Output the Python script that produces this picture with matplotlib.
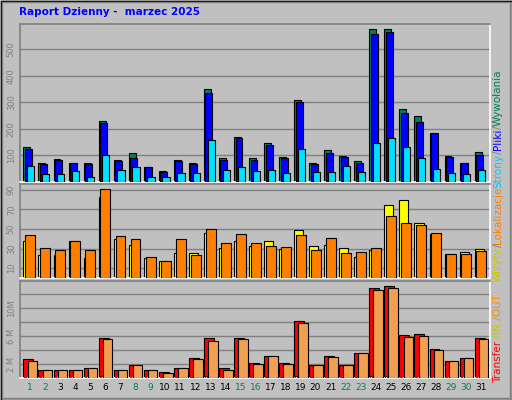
import matplotlib
matplotlib.use("Agg")
import matplotlib.pyplot as plt
from matplotlib.patches import Rectangle

days = list(range(1, 32))
weekend = [1, 2, 8, 9, 15, 16, 22, 23, 29, 30]
hits = [131,70,88,73,70,228,83,110,55,40,83,70,350,90,170,90,145,95,308,70,121,98,79,578,578,275,250,183,98,73,112]
files = [124,67,84,70,67,224,78,92,55,38,80,67,336,83,165,83,138,92,300,67,110,95,73,556,566,258,226,183,95,70,102]
pages = [60,30,30,42,20,102,45,55,20,20,35,35,160,45,57,42,45,35,125,38,38,62,38,145,165,130,90,50,35,30,45]
visits = [38,23,23,38,20,83,40,34,20,17,26,26,46,31,38,33,38,30,49,33,34,31,21,29,75,80,56,45,25,27,30]
sites = [44,31,29,38,29,91,43,40,21,17,40,24,50,36,45,36,33,32,44,29,41,26,27,31,63,56,54,46,25,25,28]
transfer = [2.7,1.2,1.2,1.1,1.5,5.8,1.2,1.8,1.1,0.8,1.5,2.8,5.8,1.4,5.8,2.1,3.1,2.1,8.2,1.8,3.1,1.8,3.6,12.9,13.2,6.2,6.3,4.1,2.5,2.8,5.8]
xfer_out = [2.5,1.2,1.2,1.1,1.5,5.6,1.2,1.8,1.1,0.65,1.5,2.7,5.3,1.2,5.6,2.0,3.1,2.0,7.9,1.8,3.0,1.8,3.6,12.6,12.9,5.9,6.0,4.0,2.4,2.8,5.6]
xfer_in = [0.1,0.1,0.1,0.1,0.1,0.3,0.1,0.1,0.1,0.1,0.1,0.1,0.3,0.1,0.1,0.1,0.1,0.1,0.3,0.1,0.1,0.1,0.1,0.3,0.3,0.2,0.2,0.1,0.1,0.1,0.1]

W, H = 512, 400
fig = plt.figure(figsize=(5.12, 4.0), dpi=100)
fig.patch.set_facecolor("#c0c0c0")
BG = "#c0c0c0"

def ax_px(x0, y0, x1, y1):
    return fig.add_axes([x0 / W, 1 - y1 / H, (x1 - x0) / W, (y1 - y0) / H])

# outer frame
fig.add_artist(Rectangle((0.5/W, 0.5/H), 1-1/W, 1-1/H, transform=fig.transFigure, fill=False, ec="black", lw=1))
fig.add_artist(Rectangle((2/W, 2/H), 1-4/W, 1-4/H, transform=fig.transFigure, fill=False, ec="#808080", lw=1))

fig.text(19/W, 1-12/H, "Raport Dzienny -  marzec 2025", color="#0000ff", fontsize=7.5, fontweight="bold", va="center", ha="left")

def setup(ax, ylim, ticks, labels):
    ax.set_facecolor(BG)
    ax.set_xlim(0.35, 31.6)
    ax.set_ylim(*ylim)
    ax.set_yticks(ticks)
    ax.set_yticklabels(labels, rotation=90, va="center", fontsize=6, color="#808080")
    ax.tick_params(axis="y", length=0, pad=3)
    ax.set_xticks([])
    for t in ticks:
        ax.axhline(t, color="#808080", lw=1, zorder=0)
    for s in ["top", "left"]:
        ax.spines[s].set_color("#808080")
    for s in ["bottom", "right"]:
        ax.spines[s].set_color("white")
    for s in ax.spines.values():
        s.set_linewidth(1.2)

ax1 = ax_px(20, 24, 490, 182)
setup(ax1, (0, 595), [100, 200, 300, 400, 500], ["100", "200", "300", "400", "500"])
ax1.bar([d - 0.42 for d in days], hits, width=0.46, align="edge", color="#00805c", ec="black", lw=0.8, zorder=2)
ax1.bar([d - 0.32 for d in days], files, width=0.46, align="edge", color="#0000ff", ec="black", lw=0.8, zorder=3)
ax1.bar([d - 0.18 for d in days], pages, width=0.48, align="edge", color="#00e0ff", ec="black", lw=0.8, zorder=4)

ax2 = ax_px(20, 184, 490, 278)
setup(ax2, (0, 96), [10, 30, 50, 70, 90], ["10", "30", "50", "70", "90"])
ax2.bar([d - 0.42 for d in days], visits, width=0.6, align="edge", color="#ffff00", ec="black", lw=0.8, zorder=2)
ax2.bar([d - 0.3 for d in days], sites, width=0.66, align="edge", color="#ff8000", ec="black", lw=0.8, zorder=3)

ax3 = ax_px(20, 281, 490, 378)
setup(ax3, (0, 13.9), [2, 4, 6, 8, 10, 12], ["2 M", "", "6 M", "", "10M", ""])
ax3.bar([d - 0.42 for d in days], transfer, width=0.66, align="edge", color="#ff0000", ec="black", lw=0.8, zorder=2)
ax3.bar([d - 0.36 for d in days], xfer_in, width=0.12, align="edge", color="#ffff00", ec="black", lw=0.5, zorder=3)
ax3.bar([d - 0.15 for d in days], xfer_out, width=0.64, align="edge", color="#f0a050", ec="black", lw=0.8, zorder=4)

for d in days:
    xf = ax3.transData.transform((d, 0))[0] / (W)
    fig.text(xf, 1 - 388/H, str(d), ha="center", va="center", fontsize=6.5,
             color="#00805c" if d in weekend else "#000000")

# right vertical labels, stacked from bottom
fig.canvas.draw()
r = fig.canvas.get_renderer()
def stack(parts, y_bottom, x=498):
    y = y_bottom
    for txt, col in parts:
        t = fig.text(x/W, y/H, txt, rotation=90, color=col, fontsize=7.5, ha="center", va="bottom")
        bb = t.get_window_extent(r)
        y += bb.height
stack([("Transfer", "#ff0000"), (" /IN", "#c8c800"), (" /OUT", "#ff9000")], 400-383)
stack([("Wizyty", "#c8c800"), ("/", "#808080"), ("Lokalizacje", "#ff8000")], 400-282)
stack([("Strony", "#00c8ff"), ("/", "#808080"), ("Pliki", "#0000ff"), ("/", "#808080"), ("Wywołania", "#00805c")], 400-188)

fig.savefig("out.png", dpi=100, facecolor=fig.get_facecolor())
